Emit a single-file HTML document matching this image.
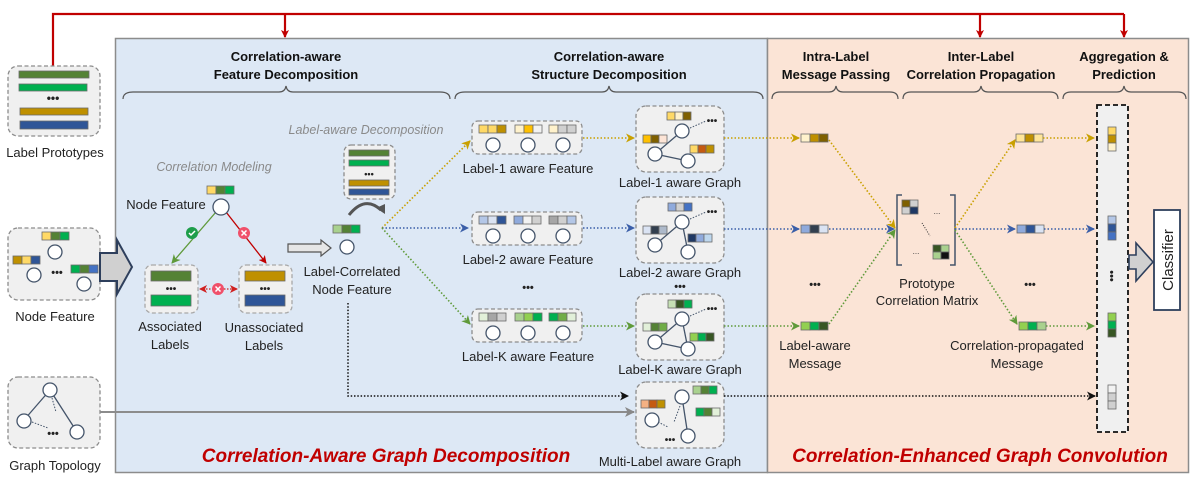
<!DOCTYPE html>
<html><head><meta charset="utf-8"><style>
html,body{margin:0;padding:0;background:#fff}
svg{display:block;font-family:"Liberation Sans",Arial,sans-serif}
.t{font-size:13px;fill:#222;text-anchor:middle}
.h{font-size:13px;font-weight:bold;fill:#111;text-anchor:middle}
.it{font-size:12.5px;font-style:italic;fill:#8a8a8a;text-anchor:middle}
.big{font-size:19px;font-weight:bold;font-style:italic;fill:#c00000;text-anchor:middle}
.box{fill:#f0f0f0;stroke:#8c8c8c;stroke-width:1.3;stroke-dasharray:4 2.5}
.c{fill:#fff;stroke:#44546a;stroke-width:1.3}
.cl{stroke:#44546a;stroke-width:1.3;fill:none}
.cd{stroke:#44546a;stroke-width:1;stroke-dasharray:1.5 1.5;fill:none}
.cell{stroke:#6b6b6b;stroke-width:0.8}
.br{fill:none;stroke:#555;stroke-width:1.2}
</style></head><body>
<svg width="1196" height="481" viewBox="0 0 1196 481" xmlns="http://www.w3.org/2000/svg">
<defs>
<marker id="ar" markerWidth="8" markerHeight="8" refX="7" refY="4" orient="auto" markerUnits="userSpaceOnUse"><path d="M0,0 L8,4 L0,8 L2,4z" fill="#c00000"/></marker>
<marker id="ag" markerWidth="9" markerHeight="9" refX="8" refY="4.5" orient="auto" markerUnits="userSpaceOnUse"><path d="M0,0 L9,4.5 L0,9 L2.5,4.5z" fill="#c9a000"/></marker>
<marker id="ab" markerWidth="9" markerHeight="9" refX="8" refY="4.5" orient="auto" markerUnits="userSpaceOnUse"><path d="M0,0 L9,4.5 L0,9 L2.5,4.5z" fill="#3a5ea8"/></marker>
<marker id="aG" markerWidth="9" markerHeight="9" refX="8" refY="4.5" orient="auto" markerUnits="userSpaceOnUse"><path d="M0,0 L9,4.5 L0,9 L2.5,4.5z" fill="#5f9a3a"/></marker>
<marker id="ak" markerWidth="9" markerHeight="9" refX="8" refY="4.5" orient="auto" markerUnits="userSpaceOnUse"><path d="M0,0 L9,4.5 L0,9 L2.5,4.5z" fill="#111"/></marker>
<marker id="ay" markerWidth="10" markerHeight="10" refX="9" refY="5" orient="auto" markerUnits="userSpaceOnUse"><path d="M0,0 L10,5 L0,10 L2.5,5z" fill="#888"/></marker>
<marker id="arr" markerWidth="8" markerHeight="8" refX="7" refY="4" orient="auto-start-reverse" markerUnits="userSpaceOnUse"><path d="M0,0 L8,4 L0,8 L2,4z" fill="#d02020"/></marker>
</defs>

<!-- panels -->
<rect x="115.5" y="38.5" width="652" height="434" fill="#dde8f5" stroke="#8c8c8c" stroke-width="1.5"/>
<rect x="767.5" y="38.5" width="421" height="434" fill="#fbe4d6" stroke="#8c8c8c" stroke-width="1.5"/>

<!-- red top line -->
<path d="M53,66 V14 H1124" fill="none" stroke="#c00000" stroke-width="2.2"/>
<line x1="285" y1="14" x2="285" y2="37" stroke="#c00000" stroke-width="2.2" marker-end="url(#ar)"/>
<line x1="980" y1="14" x2="980" y2="37" stroke="#c00000" stroke-width="2.2" marker-end="url(#ar)"/>
<line x1="1124" y1="14" x2="1124" y2="37" stroke="#c00000" stroke-width="2.2" marker-end="url(#ar)"/>

<!-- headers -->
<text class="h" x="286" y="61">Correlation-aware</text>
<text class="h" x="286" y="79">Feature Decomposition</text>
<text class="h" x="609" y="61">Correlation-aware</text>
<text class="h" x="609" y="79">Structure Decomposition</text>
<text class="h" x="836" y="61">Intra-Label</text>
<text class="h" x="836" y="79">Message Passing</text>
<text class="h" x="981" y="61">Inter-Label</text>
<text class="h" x="981" y="79">Correlation Propagation</text>
<text class="h" x="1124" y="61">Aggregation &amp;</text>
<text class="h" x="1124" y="79">Prediction</text>
<!-- braces -->
<path class="br" d="M123,99 Q123,92 133,92 H279 Q285,92 286,86 Q287,92 293,92 H440 Q450,92 450,99"/>
<path class="br" d="M455,99 Q455,92 465,92 H602 Q608,92 609,86 Q610,92 616,92 H753 Q763,92 763,99"/>
<path class="br" d="M772,99 Q772,92 780,92 H829 Q835,92 836,86 Q837,92 843,92 H890 Q898,92 898,99"/>
<path class="br" d="M903,99 Q903,92 911,92 H974 Q980,92 981,86 Q982,92 988,92 H1050 Q1058,92 1058,99"/>
<path class="br" d="M1063,99 Q1063,92 1071,92 H1117 Q1123,92 1124,86 Q1125,92 1131,92 H1178 Q1186,92 1186,99"/>

<!-- left inputs -->
<rect class="box" x="8" y="66" width="92" height="70" rx="10"/>
<rect x="19" y="71" width="70" height="7" fill="#548235" class="cell"/>
<rect x="19" y="84" width="68" height="7" fill="#00b050" class="cell"/>
<text x="53" y="102" font-size="12" font-weight="bold" text-anchor="middle" fill="#222">•••</text>
<rect x="20" y="108" width="68" height="7" fill="#bf9000" class="cell"/>
<rect x="20" y="121" width="68" height="8" fill="#2f5597" class="cell"/>
<text class="t" x="55" y="157">Label Prototypes</text>

<rect class="box" x="8" y="228" width="92" height="72" rx="10"/>
<g><rect x="42" y="232" width="9" height="8" fill="#ffd966" class="cell"/><rect x="51" y="232" width="9" height="8" fill="#548235" class="cell"/><rect x="60" y="232" width="9" height="8" fill="#00b050" class="cell"/></g>
<circle class="c" cx="55" cy="252" r="7"/>
<g><rect x="13" y="256" width="9" height="8" fill="#bf9000" class="cell"/><rect x="22" y="256" width="9" height="8" fill="#ffd966" class="cell"/><rect x="31" y="256" width="9" height="8" fill="#2f5597" class="cell"/></g>
<circle class="c" cx="34" cy="275" r="7"/>
<text x="57" y="276" font-size="11" font-weight="bold" text-anchor="middle" fill="#222">•••</text>
<g><rect x="71" y="265" width="9" height="8" fill="#00b050" class="cell"/><rect x="80" y="265" width="9" height="8" fill="#548235" class="cell"/><rect x="89" y="265" width="9" height="8" fill="#4472c4" class="cell"/></g>
<circle class="c" cx="84" cy="284" r="7"/>
<text class="t" x="55" y="321">Node Feature</text>

<rect class="box" x="8" y="377" width="92" height="71" rx="10"/>
<line class="cl" x1="50" y1="390" x2="24" y2="420"/>
<line class="cl" x1="50" y1="390" x2="77" y2="432"/>
<line class="cd" x1="52" y1="398" x2="56" y2="412"/>
<line class="cd" x1="32" y1="422" x2="48" y2="428"/>
<circle class="c" cx="50" cy="390" r="7"/>
<circle class="c" cx="24" cy="421" r="7"/>
<circle class="c" cx="77" cy="432" r="7"/>
<text x="53" y="437" font-size="11" font-weight="bold" text-anchor="middle" fill="#222">•••</text>
<text class="t" x="55" y="470">Graph Topology</text>

<!-- big arrow -->
<path d="M100,253 H117 V240 L132,267 L117,294 V281 H100 Z" fill="#d0d0d0" stroke="#2e3f5c" stroke-width="2"/>

<!-- gray topology line -->
<line x1="100" y1="412" x2="634" y2="412" stroke="#8c8c8c" stroke-width="2" marker-end="url(#ay)"/>

<!-- correlation modeling -->
<text class="it" x="214" y="171">Correlation Modeling</text>
<g><rect x="207" y="186" width="9" height="8" fill="#ffd966" class="cell"/><rect x="216" y="186" width="9" height="8" fill="#548235" class="cell"/><rect x="225" y="186" width="9" height="8" fill="#00b050" class="cell"/></g>
<text class="t" x="166" y="209">Node Feature</text>
<line x1="216" y1="212" x2="172" y2="263" stroke="#5f9a3a" stroke-width="1.3" marker-end="url(#aG)"/>
<line x1="226" y1="212" x2="266" y2="263" stroke="#c00000" stroke-width="1.3" marker-end="url(#ar)"/>
<circle class="c" cx="221" cy="207" r="8"/>
<circle cx="192" cy="233" r="6" fill="#1e9e4a"/><path d="M189,233 l2,2 l4,-4" stroke="#fff" stroke-width="1.5" fill="none"/>
<circle cx="244" cy="233" r="6" fill="#f0506a"/><path d="M241.5,230.5 l5,5 M246.5,230.5 l-5,5" stroke="#fff" stroke-width="1.5"/>
<rect class="box" x="145" y="265" width="53" height="48" rx="7" style="stroke:#a8a8a8"/>
<rect x="151" y="271" width="40" height="10" fill="#548235" class="cell"/>
<text x="171" y="292" font-size="10" font-weight="bold" text-anchor="middle" fill="#222">•••</text>
<rect x="151" y="295" width="40" height="11" fill="#00b050" class="cell"/>
<rect class="box" x="239" y="265" width="53" height="48" rx="7" style="stroke:#a8a8a8"/>
<rect x="245" y="271" width="40" height="10" fill="#bf9000" class="cell"/>
<text x="265" y="292" font-size="10" font-weight="bold" text-anchor="middle" fill="#222">•••</text>
<rect x="245" y="295" width="40" height="11" fill="#2f5597" class="cell"/>
<line x1="200" y1="289" x2="237" y2="289" stroke="#d02020" stroke-width="1.3" stroke-dasharray="1.5 1.5" marker-start="url(#arr)" marker-end="url(#arr)"/>
<circle cx="218" cy="289" r="6" fill="#f0506a"/><path d="M215.5,286.5 l5,5 M220.5,286.5 l-5,5" stroke="#fff" stroke-width="1.5"/>
<text class="t" x="170" y="331">Associated</text>
<text class="t" x="170" y="349">Labels</text>
<text class="t" x="264" y="332">Unassociated</text>
<text class="t" x="264" y="350">Labels</text>

<!-- label-aware decomposition -->
<text class="it" x="366" y="134">Label-aware Decomposition</text>
<rect class="box" x="344" y="145" width="51" height="54" rx="7"/>
<rect x="349" y="150" width="40" height="6" fill="#548235" class="cell"/>
<rect x="349" y="160" width="40" height="6" fill="#00b050" class="cell"/>
<text x="369" y="177" font-size="9" font-weight="bold" text-anchor="middle" fill="#222">•••</text>
<rect x="349" y="180" width="40" height="6" fill="#bf9000" class="cell"/>
<rect x="349" y="189" width="40" height="6" fill="#2f5597" class="cell"/>
<path d="M349,215 Q365,195 381,210" fill="none" stroke="#555" stroke-width="3"/>
<path d="M376,208 L385,214 L385,204 Z" fill="#555"/>
<g><rect x="333" y="225" width="9" height="8" fill="#a9d18e" class="cell"/><rect x="342" y="225" width="9" height="8" fill="#548235" class="cell"/><rect x="351" y="225" width="9" height="8" fill="#00b050" class="cell"/></g>
<circle class="c" cx="347" cy="247" r="7"/>
<path d="M288,244 H321 V240 L331,248 L321,256 V252 H288 Z" fill="#e6e6e6" stroke="#555" stroke-width="1.2"/>
<text class="t" x="352" y="276">Label-Correlated</text>
<text class="t" x="352" y="294">Node Feature</text>
<path d="M348,303 V396 H628" fill="none" stroke="#111" stroke-width="1.5" stroke-dasharray="1.5 1.8" marker-end="url(#ak)"/>

<!-- branching dotted -->
<line x1="382" y1="228" x2="470" y2="141" stroke="#c9a000" stroke-width="1.6" stroke-dasharray="1.5 2" marker-end="url(#ag)"/>
<line x1="382" y1="228" x2="468" y2="228" stroke="#3a5ea8" stroke-width="1.6" stroke-dasharray="1.5 2" marker-end="url(#ab)"/>
<line x1="382" y1="228" x2="470" y2="324" stroke="#5f9a3a" stroke-width="1.6" stroke-dasharray="1.5 2" marker-end="url(#aG)"/>

<!-- feature boxes -->
<g id="f1">
<rect class="box" x="472" y="121" width="110" height="33" rx="6"/>
<rect x="479" y="125" width="9" height="8" fill="#ffd966" class="cell"/><rect x="488" y="125" width="9" height="8" fill="#ffd966" class="cell"/><rect x="497" y="125" width="9" height="8" fill="#bf9000" class="cell"/>
<rect x="515" y="125" width="9" height="8" fill="#fff2cc" class="cell"/><rect x="524" y="125" width="9" height="8" fill="#ffc000" class="cell"/><rect x="533" y="125" width="9" height="8" fill="#f2f2f2" class="cell"/>
<rect x="549" y="125" width="9" height="8" fill="#fff2cc" class="cell"/><rect x="558" y="125" width="9" height="8" fill="#d0d0d0" class="cell"/><rect x="567" y="125" width="9" height="8" fill="#d0d0d0" class="cell"/>
<circle class="c" cx="493" cy="145" r="7"/><circle class="c" cx="528" cy="145" r="7"/><circle class="c" cx="563" cy="145" r="7"/>
</g>
<text class="t" x="528" y="173">Label-1 aware Feature</text>
<g>
<rect class="box" x="472" y="212" width="110" height="33" rx="6"/>
<rect x="479" y="216" width="9" height="8" fill="#b4c7e7" class="cell"/><rect x="488" y="216" width="9" height="8" fill="#dae3f3" class="cell"/><rect x="497" y="216" width="9" height="8" fill="#2f5597" class="cell"/>
<rect x="514" y="216" width="9" height="8" fill="#8faadc" class="cell"/><rect x="523" y="216" width="9" height="8" fill="#f2f2f2" class="cell"/><rect x="532" y="216" width="9" height="8" fill="#d0d0d0" class="cell"/>
<rect x="549" y="216" width="9" height="8" fill="#a6a6a6" class="cell"/><rect x="558" y="216" width="9" height="8" fill="#d0d0d0" class="cell"/><rect x="567" y="216" width="9" height="8" fill="#b4c7e7" class="cell"/>
<circle class="c" cx="493" cy="236" r="7"/><circle class="c" cx="528" cy="236" r="7"/><circle class="c" cx="563" cy="236" r="7"/>
</g>
<text class="t" x="528" y="264">Label-2 aware Feature</text>
<text x="528" y="291" font-size="11" font-weight="bold" text-anchor="middle" fill="#222">•••</text>
<g>
<rect class="box" x="472" y="309" width="110" height="33" rx="6"/>
<rect x="479" y="313" width="9" height="8" fill="#e2f0d9" class="cell"/><rect x="488" y="313" width="9" height="8" fill="#a6a6a6" class="cell"/><rect x="497" y="313" width="9" height="8" fill="#d0d0d0" class="cell"/>
<rect x="515" y="313" width="9" height="8" fill="#a9d18e" class="cell"/><rect x="524" y="313" width="9" height="8" fill="#92d050" class="cell"/><rect x="533" y="313" width="9" height="8" fill="#00b050" class="cell"/>
<rect x="549" y="313" width="9" height="8" fill="#00b050" class="cell"/><rect x="558" y="313" width="9" height="8" fill="#70ad47" class="cell"/><rect x="567" y="313" width="9" height="8" fill="#e2f0d9" class="cell"/>
<circle class="c" cx="493" cy="333" r="7"/><circle class="c" cx="528" cy="333" r="7"/><circle class="c" cx="563" cy="333" r="7"/>
</g>
<text class="t" x="528" y="361">Label-K aware Feature</text>

<!-- feature->graph arrows -->
<line x1="583" y1="138" x2="634" y2="138" stroke="#c9a000" stroke-width="1.6" stroke-dasharray="1.5 2" marker-end="url(#ag)"/>
<line x1="583" y1="228" x2="634" y2="228" stroke="#3a5ea8" stroke-width="1.6" stroke-dasharray="1.5 2" marker-end="url(#ab)"/>
<line x1="583" y1="326" x2="634" y2="326" stroke="#5f9a3a" stroke-width="1.6" stroke-dasharray="1.5 2" marker-end="url(#aG)"/>

<!-- graph boxes -->
<g transform="translate(636,106)">
<rect class="box" x="0" y="0" width="88" height="66" rx="10"/>
<line class="cl" x1="46" y1="25" x2="19" y2="48"/><line class="cl" x1="19" y1="48" x2="52" y2="55"/><line class="cd" x1="54" y1="22" x2="70" y2="15"/>
<rect x="31" y="6" width="8" height="8" fill="#ffd966" class="cell"/><rect x="39" y="6" width="8" height="8" fill="#fff2cc" class="cell"/><rect x="47" y="6" width="8" height="8" fill="#7f6000" class="cell"/>
<rect x="7" y="29" width="8" height="8" fill="#ffc000" class="cell"/><rect x="15" y="29" width="8" height="8" fill="#7f6000" class="cell"/><rect x="23" y="29" width="8" height="8" fill="#fce4d6" class="cell"/>
<rect x="54" y="39" width="8" height="8" fill="#ffd966" class="cell"/><rect x="62" y="39" width="8" height="8" fill="#c55a11" class="cell"/><rect x="70" y="39" width="8" height="8" fill="#bf9000" class="cell"/>
<circle class="c" cx="46" cy="25" r="7"/><circle class="c" cx="19" cy="48" r="7"/><circle class="c" cx="52" cy="55" r="7"/>
<text x="76" y="18" font-size="10" font-weight="bold" text-anchor="middle" fill="#222">•••</text>
</g>
<text class="t" x="680" y="187">Label-1 aware Graph</text>
<g transform="translate(636,197)">
<rect class="box" x="0" y="0" width="88" height="66" rx="10"/>
<line class="cl" x1="46" y1="25" x2="19" y2="48"/><line class="cl" x1="46" y1="25" x2="52" y2="55"/><line class="cd" x1="54" y1="22" x2="70" y2="15"/>
<rect x="32" y="6" width="8" height="8" fill="#8faadc" class="cell"/><rect x="40" y="6" width="8" height="8" fill="#d0d0d0" class="cell"/><rect x="48" y="6" width="8" height="8" fill="#4472c4" class="cell"/>
<rect x="7" y="29" width="8" height="8" fill="#dae3f3" class="cell"/><rect x="15" y="29" width="8" height="8" fill="#323f4f" class="cell"/><rect x="23" y="29" width="8" height="8" fill="#adb9ca" class="cell"/>
<rect x="52" y="37" width="8" height="8" fill="#1f3864" class="cell"/><rect x="60" y="37" width="8" height="8" fill="#8faadc" class="cell"/><rect x="68" y="37" width="8" height="8" fill="#bdd7ee" class="cell"/>
<circle class="c" cx="46" cy="25" r="7"/><circle class="c" cx="19" cy="48" r="7"/><circle class="c" cx="52" cy="55" r="7"/>
<text x="76" y="18" font-size="10" font-weight="bold" text-anchor="middle" fill="#222">•••</text>
</g>
<text class="t" x="680" y="277">Label-2 aware Graph</text>
<text x="680" y="290" font-size="11" font-weight="bold" text-anchor="middle" fill="#222">•••</text>
<g transform="translate(636,294)">
<rect class="box" x="0" y="0" width="88" height="66" rx="10"/>
<line class="cl" x1="46" y1="25" x2="19" y2="48"/><line class="cl" x1="19" y1="48" x2="52" y2="55"/><line class="cl" x1="46" y1="25" x2="52" y2="55"/><line class="cd" x1="54" y1="22" x2="70" y2="15"/>
<rect x="32" y="6" width="8" height="8" fill="#c5e0b4" class="cell"/><rect x="40" y="6" width="8" height="8" fill="#375623" class="cell"/><rect x="48" y="6" width="8" height="8" fill="#00b050" class="cell"/>
<rect x="7" y="29" width="8" height="8" fill="#e2f0d9" class="cell"/><rect x="15" y="29" width="8" height="8" fill="#548235" class="cell"/><rect x="23" y="29" width="8" height="8" fill="#70ad47" class="cell"/>
<rect x="54" y="39" width="8" height="8" fill="#92d050" class="cell"/><rect x="62" y="39" width="8" height="8" fill="#00b050" class="cell"/><rect x="70" y="39" width="8" height="8" fill="#375623" class="cell"/>
<circle class="c" cx="46" cy="25" r="7"/><circle class="c" cx="19" cy="48" r="7"/><circle class="c" cx="52" cy="55" r="7"/>
<text x="76" y="18" font-size="10" font-weight="bold" text-anchor="middle" fill="#222">•••</text>
</g>
<text class="t" x="680" y="374">Label-K aware Graph</text>
<g transform="translate(636,382)">
<rect class="box" x="0" y="0" width="88" height="66" rx="10"/>
<line class="cl" x1="46" y1="15" x2="52" y2="54"/><line class="cd" x1="44" y1="24" x2="38" y2="40"/><line class="cd" x1="22" y1="40" x2="32" y2="45"/>
<rect x="57" y="4" width="8" height="8" fill="#a9d18e" class="cell"/><rect x="65" y="4" width="8" height="8" fill="#548235" class="cell"/><rect x="73" y="4" width="8" height="8" fill="#00b050" class="cell"/>
<rect x="5" y="18" width="8" height="8" fill="#f4b183" class="cell"/><rect x="13" y="18" width="8" height="8" fill="#c55a11" class="cell"/><rect x="21" y="18" width="8" height="8" fill="#bf9000" class="cell"/>
<rect x="60" y="26" width="8" height="8" fill="#00b050" class="cell"/><rect x="68" y="26" width="8" height="8" fill="#548235" class="cell"/><rect x="76" y="26" width="8" height="8" fill="#e2f0d9" class="cell"/>
<circle class="c" cx="46" cy="15" r="7"/><circle class="c" cx="16" cy="38" r="7"/><circle class="c" cx="52" cy="54" r="7"/>
<text x="34" y="61" font-size="10" font-weight="bold" text-anchor="middle" fill="#222">•••</text>
</g>
<text class="t" x="670" y="466">Multi-Label aware Graph</text>
<path d="M724,396 H1095" fill="none" stroke="#111" stroke-width="1.5" stroke-dasharray="1.5 1.8" marker-end="url(#ak)"/>

<!-- graph->messages -->
<line x1="724" y1="138" x2="799" y2="138" stroke="#c9a000" stroke-width="1.6" stroke-dasharray="1.5 2" marker-end="url(#ag)"/>
<line x1="724" y1="229" x2="799" y2="229" stroke="#3a5ea8" stroke-width="1.6" stroke-dasharray="1.5 2" marker-end="url(#ab)"/>
<line x1="724" y1="326" x2="799" y2="326" stroke="#5f9a3a" stroke-width="1.6" stroke-dasharray="1.5 2" marker-end="url(#aG)"/>
<g><rect x="801" y="134" width="9" height="8" fill="#fff2cc" class="cell"/><rect x="810" y="134" width="9" height="8" fill="#bf9000" class="cell"/><rect x="819" y="134" width="9" height="8" fill="#7f6000" class="cell"/></g>
<g><rect x="801" y="225" width="9" height="8" fill="#8faadc" class="cell"/><rect x="810" y="225" width="9" height="8" fill="#323f4f" class="cell"/><rect x="819" y="225" width="9" height="8" fill="#dae3f3" class="cell"/></g>
<g><rect x="801" y="322" width="9" height="8" fill="#92d050" class="cell"/><rect x="810" y="322" width="9" height="8" fill="#00b050" class="cell"/><rect x="819" y="322" width="9" height="8" fill="#375623" class="cell"/></g>
<text x="815" y="288" font-size="11" font-weight="bold" text-anchor="middle" fill="#222">•••</text>
<text class="t" x="815" y="350">Label-aware</text>
<text class="t" x="815" y="368">Message</text>

<!-- to matrix -->
<line x1="829" y1="140" x2="895" y2="228" stroke="#c9a000" stroke-width="1.6" stroke-dasharray="1.5 2" marker-end="url(#ag)"/>
<line x1="829" y1="229" x2="894" y2="229" stroke="#3a5ea8" stroke-width="1.6" stroke-dasharray="1.5 2" marker-end="url(#ab)"/>
<line x1="829" y1="324" x2="895" y2="230" stroke="#5f9a3a" stroke-width="1.6" stroke-dasharray="1.5 2" marker-end="url(#aG)"/>
<path d="M902,195 H897 V265 H902 M950,195 H955 V265 H950" fill="none" stroke="#44546a" stroke-width="1.5"/>
<rect x="902" y="200" width="8" height="7" fill="#7f6000" class="cell"/><rect x="910" y="200" width="8" height="7" fill="#d0d0d0" class="cell"/>
<rect x="902" y="207" width="8" height="7" fill="#d0d0d0" class="cell"/><rect x="910" y="207" width="8" height="7" fill="#1f3864" class="cell"/>
<rect x="933" y="245" width="8" height="7" fill="#375623" class="cell"/><rect x="941" y="245" width="8" height="7" fill="#a9d18e" class="cell"/>
<rect x="933" y="252" width="8" height="7" fill="#a9d18e" class="cell"/><rect x="941" y="252" width="8" height="7" fill="#111" class="cell"/>
<text x="937" y="214" font-size="8" text-anchor="middle" fill="#333">...</text>
<text x="916" y="254" font-size="8" text-anchor="middle" fill="#333">...</text>
<line x1="922" y1="223" x2="930" y2="236" stroke="#333" stroke-dasharray="1 1.5"/>
<text class="t" x="927" y="288">Prototype</text>
<text class="t" x="927" y="305">Correlation Matrix</text>

<!-- from matrix -->
<line x1="955" y1="228" x2="1015" y2="140" stroke="#c9a000" stroke-width="1.6" stroke-dasharray="1.5 2" marker-end="url(#ag)"/>
<line x1="955" y1="229" x2="1015" y2="229" stroke="#3a5ea8" stroke-width="1.6" stroke-dasharray="1.5 2" marker-end="url(#ab)"/>
<line x1="955" y1="230" x2="1017" y2="324" stroke="#5f9a3a" stroke-width="1.6" stroke-dasharray="1.5 2" marker-end="url(#aG)"/>
<g><rect x="1016" y="134" width="9" height="8" fill="#ffe699" class="cell"/><rect x="1025" y="134" width="9" height="8" fill="#bf9000" class="cell"/><rect x="1034" y="134" width="9" height="8" fill="#ffe699" class="cell"/></g>
<g><rect x="1017" y="225" width="9" height="8" fill="#8faadc" class="cell"/><rect x="1026" y="225" width="9" height="8" fill="#2f5597" class="cell"/><rect x="1035" y="225" width="9" height="8" fill="#dae3f3" class="cell"/></g>
<g><rect x="1019" y="322" width="9" height="8" fill="#92d050" class="cell"/><rect x="1028" y="322" width="9" height="8" fill="#00b050" class="cell"/><rect x="1037" y="322" width="9" height="8" fill="#a9d18e" class="cell"/></g>
<text x="1030" y="288" font-size="11" font-weight="bold" text-anchor="middle" fill="#222">•••</text>
<text class="t" x="1017" y="350">Correlation-propagated</text>
<text class="t" x="1017" y="368">Message</text>
<line x1="1043" y1="138" x2="1094" y2="138" stroke="#c9a000" stroke-width="1.6" stroke-dasharray="1.5 2" marker-end="url(#ag)"/>
<line x1="1044" y1="229" x2="1094" y2="229" stroke="#3a5ea8" stroke-width="1.6" stroke-dasharray="1.5 2" marker-end="url(#ab)"/>
<line x1="1046" y1="326" x2="1094" y2="326" stroke="#5f9a3a" stroke-width="1.6" stroke-dasharray="1.5 2" marker-end="url(#aG)"/>

<!-- aggregation column -->
<rect x="1097" y="105" width="31" height="327" fill="#f0f0f0" stroke="#111" stroke-width="1.8" stroke-dasharray="5 3"/>
<rect x="1108" y="127" width="8" height="8" fill="#ffd966" class="cell"/><rect x="1108" y="135" width="8" height="8" fill="#bf9000" class="cell"/><rect x="1108" y="143" width="8" height="8" fill="#fff2cc" class="cell"/>
<rect x="1108" y="216" width="8" height="8" fill="#b4c7e7" class="cell"/><rect x="1108" y="224" width="8" height="8" fill="#2f5597" class="cell"/><rect x="1108" y="232" width="8" height="8" fill="#4472c4" class="cell"/>
<rect x="1108" y="313" width="8" height="8" fill="#92d050" class="cell"/><rect x="1108" y="321" width="8" height="8" fill="#00b050" class="cell"/><rect x="1108" y="329" width="8" height="8" fill="#375623" class="cell"/>
<rect x="1108" y="385" width="8" height="8" fill="#f2f2f2" class="cell"/><rect x="1108" y="393" width="8" height="8" fill="#d0d0d0" class="cell"/><rect x="1108" y="401" width="8" height="8" fill="#d0d0d0" class="cell"/>
<text x="1112" y="280" font-size="11" font-weight="bold" text-anchor="middle" fill="#222" transform="rotate(90 1112 276)">•••</text>
<path d="M1129,255 H1136 V243 L1153,262 L1136,281 V269 H1129 Z" fill="#d0d0d0" stroke="#2e3f5c" stroke-width="1.6"/>
<rect x="1154" y="210" width="26" height="100" fill="#fff" stroke="#2e3f5c" stroke-width="1.8"/>
<text x="0" y="0" font-size="15" fill="#222" text-anchor="middle" transform="translate(1173,260) rotate(-90)">Classifier</text>

<!-- bottom titles -->
<text class="big" x="386" y="462">Correlation-Aware Graph Decomposition</text>
<text class="big" x="980" y="462">Correlation-Enhanced Graph Convolution</text>
</svg>
</body></html>
